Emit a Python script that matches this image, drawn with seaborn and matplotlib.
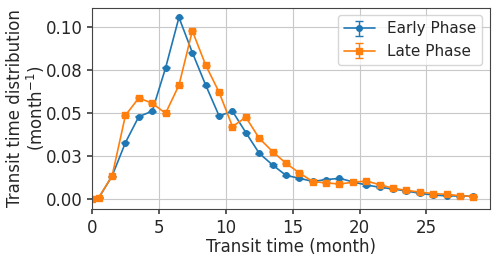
import numpy as np
import matplotlib
matplotlib.use("Agg")
import matplotlib.pyplot as plt
import seaborn as sns

transit_time = [0, 0.5, 1.5, 2.5, 3.5, 4.5, 5.5, 6.5, 7.5, 8.5, 9.5, 10.5, 11.5, 12.5,
                13.5, 14.5, 15.5, 16.5, 17.5, 18.5, 19.5, 20.5, 21.5, 22.5, 23.5,
                24.5, 25.5, 26.5, 27.5, 28.5]
early = [0.0, 0.0008, 0.0135, 0.0329, 0.0480, 0.0511, 0.0762, 0.1055, 0.0851, 0.0662,
         0.0484, 0.0511, 0.0387, 0.0267, 0.0199, 0.0139, 0.0122, 0.0104, 0.0114, 0.0122,
         0.0101, 0.0083, 0.0070, 0.0060, 0.0048, 0.0035, 0.0025, 0.0020, 0.0019, 0.0018]
late = [0.0, 0.0010, 0.0135, 0.0487, 0.0588, 0.0557, 0.0499, 0.0662, 0.0977, 0.0778,
        0.0621, 0.0422, 0.0476, 0.0354, 0.0277, 0.0209, 0.0153, 0.0103, 0.0095, 0.0089,
        0.0099, 0.0106, 0.0085, 0.0064, 0.0052, 0.0042, 0.0033, 0.0029, 0.0021, 0.0016]
early_err = [0.0003] * 30
late_err = [0.0003] * 30

sns.set_theme(style="ticks")
plt.rcParams['font.family'] = ['DejaVu Sans']

fig, ax = plt.subplots(figsize=(5.0, 2.58), dpi=100)
ax.errorbar(transit_time, early, yerr=early_err, fmt='-o', color='#1f77b4',
            markersize=4, linewidth=1.2, capsize=3, elinewidth=1, label='Early Phase')
ax.errorbar(transit_time, late, yerr=late_err, fmt='-s', color='#ff7f0e',
            markersize=4.5, linewidth=1.2, capsize=3, elinewidth=1, label='Late Phase')

ax.set_xlim(0, 29.75)
ax.set_xticks([0, 5, 10, 15, 20, 25])
yt = [0.0, 0.025, 0.05, 0.075, 0.10]
ax.set_yticks(yt)
ax.set_yticklabels(['0.00', '0.03', '0.05', '0.08', '0.10'])
ax.grid(True, color='#c8c8c8', linewidth=0.8)
for s in ax.spines.values():
    s.set_color('#444444')
    s.set_linewidth(0.8)
ax.tick_params(labelsize=12, length=3.5, color='#444444')
ax.set_xlabel('Transit time (month)', fontsize=12, labelpad=1)
ax.set_ylabel('Transit time distribution\n(month$^{-1}$)', fontsize=12, linespacing=1.05)
ax.yaxis.set_label_coords(-0.113, 0.5)
ax.legend(fontsize=11, loc='upper right', framealpha=0.8)

fig.subplots_adjust(left=0.184, right=0.98, top=0.97, bottom=0.19)
fig.savefig('out.png', dpi=100)
